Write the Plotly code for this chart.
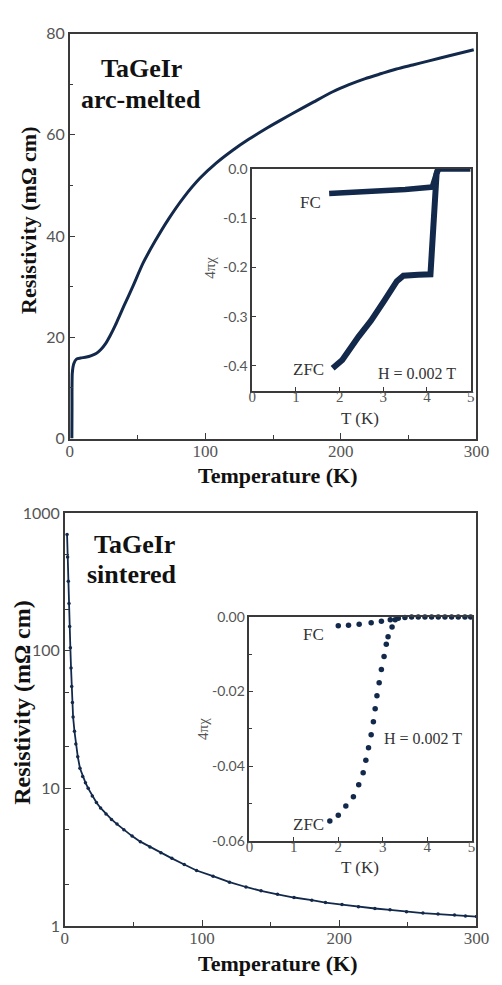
import plotly.graph_objects as go

# ---------------- data ----------------
# Top panel: arc-melted resistivity (mOhm cm) vs T (K)
arc_T = [1.6, 1.7, 1.9, 3.0, 5.0, 8, 12.4, 16, 19.5, 23, 26.6, 30, 33.7, 37, 40, 46.5, 54, 63, 73,
         84, 96, 108, 120, 132, 144, 155, 165, 180, 194, 206, 218, 230, 241, 253, 265, 280, 298]
arc_rho = [0, 6, 12.9, 14.8, 15.7, 15.9, 16.1, 16.4, 16.8, 17.6, 18.8, 20.4, 22.4, 24.4, 26.2, 30.0,
           34.6, 39.0, 43.4, 47.6, 51.4, 54.4, 56.9, 59.1, 61.1, 62.8, 64.3, 66.5, 68.5, 69.9, 71.1,
           72.1, 73.0, 73.8, 74.6, 75.6, 76.8]

# Top inset: 4*pi*chi vs T (K)
arc_fc_T = [1.76, 2.5, 3.0, 3.5, 4.12, 4.2, 4.25, 4.6, 5.0]
arc_fc_chi = [-0.050, -0.047, -0.045, -0.042, -0.037, -0.015, 0.0, 0.0, 0.0]
arc_zfc_T = [1.84, 2.06, 2.43, 2.72, 3.02, 3.31, 3.46, 3.6, 3.8, 4.08, 4.12, 4.17, 4.22, 4.26]
arc_zfc_chi = [-0.405, -0.388, -0.341, -0.308, -0.268, -0.228, -0.217, -0.215, -0.215, -0.214,
               -0.15, -0.07, -0.01, 0.0]

# Bottom panel: sintered resistivity (log) vs T (K)
sin_T = [1.6, 2.0, 2.5, 3.0, 3.5, 4.0, 4.5, 5.0, 5.5, 6.0, 7.0, 8.0, 9.4, 11, 13, 15, 17, 20, 23, 26,
         30, 34, 38, 43, 49, 55, 62, 70, 78, 87, 96, 108, 120, 132, 143, 155, 167, 180, 190, 202,
         214, 226, 237, 249, 261, 272, 284, 292, 300]
sin_rho = [700, 480, 320, 220, 150, 105, 75, 55, 42, 33, 26, 21, 17, 14, 12.2, 11, 10, 8.8, 7.9, 7.2,
           6.5, 5.95, 5.5, 5.0, 4.5, 4.1, 3.75, 3.4, 3.1, 2.8, 2.53, 2.3, 2.08, 1.92, 1.80, 1.70,
           1.61, 1.54, 1.48, 1.43, 1.38, 1.34, 1.31, 1.27, 1.24, 1.22, 1.20, 1.18, 1.17]

# Bottom inset: 4*pi*chi vs T (K)
sin_fc_T = [2.0, 2.23, 2.47, 2.74, 2.97, 3.17, 3.35, 3.5, 3.65, 3.8, 3.95, 4.1, 4.25, 4.4, 4.55,
            4.7, 4.85, 4.98]
sin_fc_chi = [-0.0023, -0.0022, -0.0019, -0.0015, -0.0011, -0.0007, -0.0003, -0.0001, 0, 0, 0, 0,
              0, 0, 0, 0, 0, 0]
sin_zfc_T = [1.81, 2.0, 2.17, 2.34, 2.46, 2.56, 2.62, 2.68, 2.74, 2.79, 2.83, 2.87, 2.92, 2.97,
             3.03, 3.08, 3.12, 3.21, 3.28]
sin_zfc_chi = [-0.0547, -0.0532, -0.0507, -0.0482, -0.0450, -0.0418, -0.0384, -0.0351, -0.0316,
               -0.0281, -0.0246, -0.0211, -0.0176, -0.0141, -0.0106, -0.0073, -0.0053, -0.0027,
               -0.0007]

main_xticks = [0, 100, 200, 300]
top_yticks = [0, 20, 40, 60, 80]
bot_yticks = [1, 10, 100, 1000]
inset_xticks = [0, 1, 2, 3, 4, 5]
top_inset_yticks = [0.0, -0.1, -0.2, -0.3, -0.4]
top_inset_ylabels = ["0.0", "-0.1", "-0.2", "-0.3", "-0.4"]
bot_inset_yticks = [0.0, -0.02, -0.04, -0.06]
bot_inset_ylabels = ["0.00", "-0.02", "-0.04", "-0.06"]

# ---------------- styling ----------------
W, H = 502, 985
NAVY = "#13294b"
AX = "#3a3a3a"
TICKC = "#555555"
SERIF = "Liberation Serif"
SANS = "Lato"


def X(px):
    return px / W


def Y(py):
    return 1 - py / H


fig = go.Figure()

fig.add_trace(go.Scatter(x=arc_T, y=arc_rho, mode="lines",
                         line=dict(color=NAVY, width=3, shape="spline", smoothing=0.6),
                         xaxis="x", yaxis="y", showlegend=False))
fig.add_trace(go.Scatter(x=arc_fc_T, y=arc_fc_chi, mode="lines", line=dict(color=NAVY, width=5.5),
                         xaxis="x2", yaxis="y2", showlegend=False))
fig.add_trace(go.Scatter(x=arc_zfc_T, y=arc_zfc_chi, mode="lines",
                         line=dict(color=NAVY, width=6), xaxis="x2", yaxis="y2", showlegend=False))
fig.add_trace(go.Scatter(x=sin_T, y=sin_rho, mode="lines+markers",
                         line=dict(color=NAVY, width=1.8), marker=dict(color=NAVY, size=3.5),
                         xaxis="x3", yaxis="y3", showlegend=False))
fig.add_trace(go.Scatter(x=sin_fc_T, y=sin_fc_chi, mode="markers", marker=dict(color=NAVY, size=5.5),
                         cliponaxis=False, xaxis="x4", yaxis="y4", showlegend=False))
fig.add_trace(go.Scatter(x=sin_zfc_T, y=sin_zfc_chi, mode="markers",
                         marker=dict(color=NAVY, size=5.5),
                         cliponaxis=False, xaxis="x4", yaxis="y4", showlegend=False))


def axis_common(**kw):
    d = dict(showline=True, linecolor=AX, linewidth=1.5, mirror=True, showgrid=False,
             zeroline=False, ticks="inside", tickcolor=AX, tickwidth=1.2)
    d.update(kw)
    return d


fig.update_layout(
    width=W, height=H, margin=dict(l=0, r=0, t=0, b=0),
    paper_bgcolor="white", plot_bgcolor="white",
    xaxis=axis_common(domain=[X(68), X(489)], anchor="y", range=[0, 300], tickmode="array",
                      tickvals=main_xticks, ticklen=6, ticklabelstandoff=-4,
                      minor=dict(ticks="inside", dtick=50, tick0=0, ticklen=4, tickcolor=AX),
                      tickfont=dict(family=SERIF, size=17, color=TICKC)),
    yaxis=axis_common(domain=[Y(437), Y(24)], anchor="x", range=[0, 80], tickmode="array",
                      tickvals=top_yticks, ticklen=6,
                      minor=dict(ticks="inside", dtick=10, tick0=0, ticklen=4, tickcolor=AX),
                      tickfont=dict(family=SANS, size=16, color=TICKC)),
    xaxis2=axis_common(domain=[X(257), X(483)], anchor="y2", range=[0, 5], tickmode="array",
                       tickvals=inset_xticks, ticklen=4, ticklabelstandoff=-8,
                       tickfont=dict(family=SERIF, size=15, color=TICKC)),
    yaxis2=axis_common(domain=[Y(388), Y(162)], anchor="x2", range=[-0.45, 0], tickmode="array",
                       tickvals=top_inset_yticks, ticktext=top_inset_ylabels, ticklen=4,
                       tickfont=dict(family=SANS, size=14, color=TICKC)),
    xaxis3=axis_common(domain=[X(63), X(489)], anchor="y3", range=[0, 300], tickmode="array",
                       tickvals=main_xticks, ticklen=6, ticklabelstandoff=-4,
                       minor=dict(ticks="inside", dtick=50, tick0=0, ticklen=4, tickcolor=AX),
                       tickfont=dict(family=SERIF, size=17, color=TICKC)),
    yaxis3=axis_common(domain=[Y(934), Y(513)], anchor="x3", type="log", range=[0, 3],
                       tickmode="array", tickvals=bot_yticks,
                       ticktext=[str(v) for v in bot_yticks], ticklen=6,
                       minor=dict(ticks="inside", tickmode="array",
                                  tickvals=[2, 5, 20, 50, 200, 500], ticklen=4, tickcolor=AX),
                       tickfont=dict(family=SANS, size=16, color=TICKC)),
    xaxis4=axis_common(domain=[X(254), X(484)], anchor="y4", range=[0, 5], tickmode="array",
                       tickvals=inset_xticks, ticklen=4, ticklabelstandoff=-8,
                       tickfont=dict(family=SERIF, size=15, color=TICKC)),
    yaxis4=axis_common(domain=[Y(847), Y(619)], anchor="x4", range=[-0.06, 0], tickmode="array",
                       tickvals=bot_inset_yticks, ticktext=bot_inset_ylabels, ticklen=4,
                       minor=dict(ticks="inside", dtick=0.01, tick0=0, ticklen=3, tickcolor=AX),
                       tickfont=dict(family=SANS, size=14, color=TICKC)),
)


def ann(text, x, y, size, color="#222", family=SERIF, angle=0):
    fig.add_annotation(text=text, x=X(x), y=Y(y), xref="paper", yref="paper", showarrow=False,
                       xanchor="center", yanchor="middle", textangle=angle,
                       font=dict(family=family, size=size, color=color))


# panel labels
ann("<b>TaGeIr</b>", 142, 60, 26, "#111")
ann("<b>arc-melted</b>", 142, 91, 26, "#111")
ann("<b>TaGeIr</b>", 135, 545, 26, "#111")
ann("<b>sintered</b>", 133, 576, 26, "#111")

# axis titles
ann("<b>Resistivity (m\u03a9 cm)</b>", 26, 215, 22, "#111", angle=-90)
ann("<b>Temperature (K)</b>", 283, 475, 22, "#111")
ann("<b>Resistivity (m\u03a9 cm)</b>", 19, 706, 24, "#111", angle=-90)
ann("<b>Temperature (K)</b>", 283, 972, 22, "#111")

# inset labels (top)
ann("4\u03c0\u03c7", 213, 263, 15, TICKC, angle=-90)
ann("T (K)", 368, 417, 17, "#333")
ann("FC", 317, 196, 17, "#333")
ann("ZFC", 315, 367, 17, "#333")
ann("H = 0.002 T", 427, 371, 16, "#333")

# inset labels (bottom)
ann("4\u03c0\u03c7", 206, 733, 15, TICKC, angle=-90)
ann("T (K)", 368, 874, 17, "#333")
ann("FC", 320, 637, 17, "#333")
ann("ZFC", 315, 831, 17, "#333")
ann("H = 0.002 T", 434, 743, 16, "#333")

fig.write_html("out.html")
